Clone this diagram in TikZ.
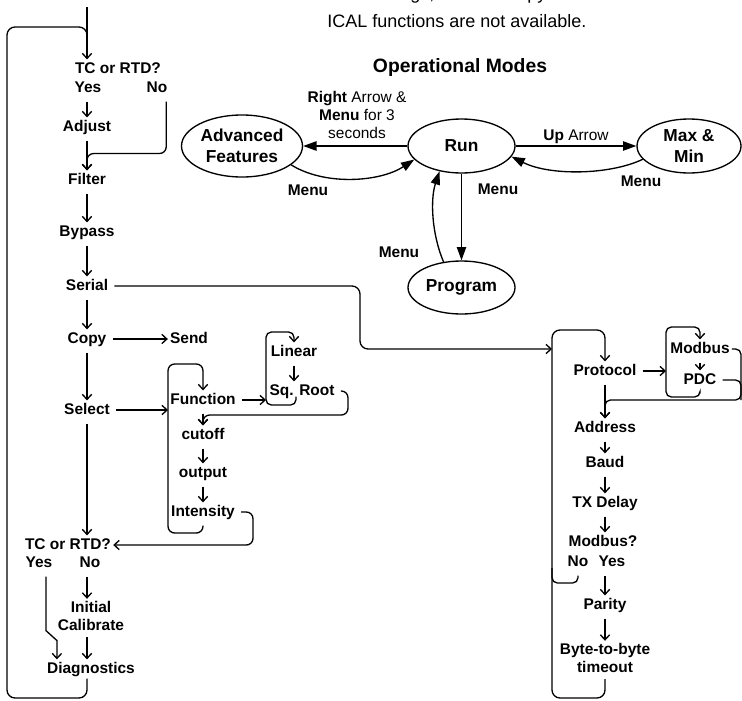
\documentclass[tikz,border=0pt]{standalone}
\usepackage{fontspec}
\setmainfont{Liberation Sans}
\usetikzlibrary{calc}
\usetikzlibrary{arrows.meta}
\usetikzlibrary{shapes.geometric}

\begin{document}
\begin{tikzpicture}[
    x=0.75pt, y=-0.75pt,
    item/.style={inner sep=1.5pt, text height=8.5pt, text depth=2.5pt, font=\fontsize{11.6}{13.9}\selectfont\bfseries},
    item2/.style={inner sep=1.5pt, align=center, font=\fontsize{11.6}{13.9}\selectfont\bfseries},
    mode/.style={draw, ellipse, line width=1pt, inner sep=0pt, align=center, font=\fontsize{13}{16}\selectfont\bfseries},
    tag/.style={inner sep=1pt, align=center, font=\fontsize{11.6}{13.5}\selectfont},
    line/.style={line width=1pt},
    arr/.style={-{Straight Barb[length=3.8pt, width=7pt]}, line width=1pt, shorten <=3pt},
    garr/.style={-{Triangle[length=10pt, width=7pt]}, line width=1pt}
]
\useasboundingbox (0,0) rectangle (742,700);

% --- NOTE AND TITLE ---
\node[anchor=base west, inner sep=0pt, align=left, font=\fontsize{13.5}{20.5}\selectfont] (note) at (327,27)
{their settings, and the Copy and\\ICAL functions are not available.};
\node[font=\fontsize{14.5}{17}\selectfont\bfseries] (title) at (460,67) {Operational Modes};

% --- OPERATIONAL MODES ---
\node[mode, minimum width=90.75pt, minimum height=46.5pt] (adv) at (242,146) {Advanced\\Features};
\node[mode, minimum width=80.25pt, minimum height=40.5pt] (run) at (461.5,146) {Run};
\node[mode, minimum width=78pt, minimum height=40.5pt] (maxmin) at (689,146) {Max \&\\Min};
\node[mode, minimum width=80.25pt, minimum height=39.75pt] (prog) at (461.5,287.5) {Program};

\draw[garr] (run) -- (adv);
\node[tag] (rightlbl) at (357,115) {\textbf{Right} Arrow \&\\\textbf{Menu} for 3\\seconds};
\draw[garr] (adv.-21) .. controls (325,186) and (380,182) .. (run.196);
\node[tag, font=\fontsize{11.6}{13.5}\selectfont\bfseries] (menu1) at (308,190) {Menu};

\draw[garr] (run) -- (maxmin) node[midway, above, tag] (uplbl) {\textbf{Up} Arrow};
\draw[garr] (maxmin.196) .. controls (610,175) and (550,176) .. (run.-12);
\node[tag, font=\fontsize{11.6}{13.5}\selectfont\bfseries] (menu2) at (641,181) {Menu};

\draw[garr] (run) -- (prog);
\node[tag, font=\fontsize{11.6}{13.5}\selectfont\bfseries] (menu3) at (498,189) {Menu};
\draw[garr] (prog.125) .. controls (432,235) and (430,200) .. (run.229);
\node[tag, font=\fontsize{11.6}{13.5}\selectfont\bfseries] (menu4) at (399,252) {Menu};

% --- LEFT COLUMN ---
\coordinate (in) at (87,3);
\coordinate (ltop) at (7,27);
\coordinate (lbot) at (7,698);

\node[item] (tc1) at (118,69) {TC or RTD?};
\node[item] (yes1) at (88,88) {Yes};
\node[item] (no1) at (157,88) {No};
\node[item] (adjust) at (87,127) {Adjust};
\node[item] (filter) at (87,180) {Filter};
\node[item] (bypass) at (87,232) {Bypass};
\node[item] (serial) at (87,286) {Serial};
\node[item] (copy) at (87,339) {Copy};
\node[item] (send) at (189,339) {Send};
\node[item] (select) at (87,410) {Select};
\node[item] (tc2) at (68,545) {TC or RTD?};
\node[item] (yes2) at (39,563) {Yes};
\node[item] (no2) at (90,563) {No};
\node[item2] (calib) at (91,616) {Initial\\Calibrate};
\node[item] (diag) at (91,669) {Diagnostics};

\draw[arr] (in) -- (in |- tc1.north);
\draw[line, rounded corners=6pt] (diag.south -| in) |- (lbot) -- (ltop) -| ($(in)+(0,45)$);
\draw[arr] (yes1.south -| adjust) -- (adjust);
\draw[arr, rounded corners=5pt] ([xshift=-2.5pt]no1.south east) |- ($(adjust.south)!0.5!(filter.north)$) -- (filter.north);
\draw[arr] (adjust) -- (filter);
\draw[arr] (filter) -- (bypass);
\draw[arr] (bypass) -- (serial);
\draw[arr] (serial) -- (copy);
\draw[arr] (copy) -- (send);
\draw[arr] (copy) -- (select);
\draw[arr] (select) -- (select |- tc2.north);
\draw[arr] ($(yes2.south)+(7,0)$) -- ++(0,58) -- ++(11,10) -- ($(diag.north west)+(12,0)$);
\draw[arr] (no2.south -| in) -- (calib.north -| in);
\draw[arr] (calib.south -| in) -- (diag.north -| in);

% --- SELECT BRANCH ---
\coordinate (fnw) at (168,364);
\coordinate (fsw) at (168,533);
\coordinate (lnw) at (266,332);
\coordinate (lsw) at (266,405);
\coordinate (sqr) at (348,415);
\coordinate (ise) at (253,545);

\node[item] (func) at (203,400) {Function};
\node[item] (linear) at (294,352) {Linear};
\node[item] (sqroot) at (302,391) {Sq. Root};
\node[item] (cutoff) at (203,435) {cutoff};
\node[item] (output) at (203,473) {output};
\node[item] (intens) at (203,512) {Intensity};

\draw[arr] (select) -- (select -| fnw);
\draw[arr, rounded corners=5pt] (intens.south) |- (fsw) -- (fnw) -| (func.north);
\draw[arr] (func) -- (func -| lnw);
\draw[arr, rounded corners=4pt] ($(sqroot.south)+(-6,0)$) |- (lsw) -- (lnw) -| (linear.north);
\draw[arr] (linear) -- (linear |- sqroot.north);
\draw[arr, rounded corners=5pt] (sqroot.east) -| (sqr) -| (cutoff.north);
\draw[arr] (func) -- (cutoff);
\draw[arr] (cutoff) -- (output);
\draw[arr] (output) -- (intens);
\draw[arr, rounded corners=5pt] (intens.east) -| (ise) -- (tc2.east);

% --- SERIAL BRANCH ---
\coordinate (bend) at (360,349);
\coordinate (rnw) at (552,330);
\coordinate (rsw) at (552,698);
\coordinate (pin) at (552,349);
\coordinate (rjoin) at (552,583);
\coordinate (mnw) at (666,327);
\coordinate (msw) at (666,397);
\coordinate (mre) at (741,400);

\node[item] (prot) at (605,371) {Protocol};
\node[item] (modbus) at (700,349) {Modbus};
\node[item] (pdc) at (700,380) {PDC};
\node[item] (addr) at (605,428) {Address};
\node[item] (baud) at (605,463) {Baud};
\node[item] (txd) at (605,503) {TX Delay};
\node[item] (mb) at (603,542) {Modbus?};
\node[item] (no3) at (578,562) {No};
\node[item] (yes3) at (612,562) {Yes};
\node[item] (parity) at (605,605) {Parity};
\node[item2] (byte) at (605,658) {Byte-to-byte\\timeout};

\draw[arr, rounded corners=6pt] (serial.east) -| (bend) -- (pin);
\draw[arr, rounded corners=6pt] (byte.south) |- (rsw) -- (rnw) -| (prot.north);
\draw[arr] (prot) -- (prot -| mnw);
\draw[arr, rounded corners=4pt] (pdc.south) |- (msw) -- (mnw) -| (modbus.north);
\draw[arr] (modbus) -- (pdc);
\draw[line, rounded corners=4pt] (modbus.east) -| (mre);
\draw[arr, rounded corners=4pt] (pdc.east) -| (mre) -| (addr.north);
\draw[arr] (prot) -- (addr);
\draw[arr] (addr) -- (baud);
\draw[arr] (baud) -- (txd);
\draw[arr] (txd) -- (txd |- mb.north);
\draw[line, shorten <=3pt, rounded corners=4pt] (no3.south) |- (rjoin) -- ++(0,-15);
\draw[arr] (yes3.south -| parity) -- (parity);
\draw[arr] (parity) -- (byte);

\end{tikzpicture}
\end{document}
